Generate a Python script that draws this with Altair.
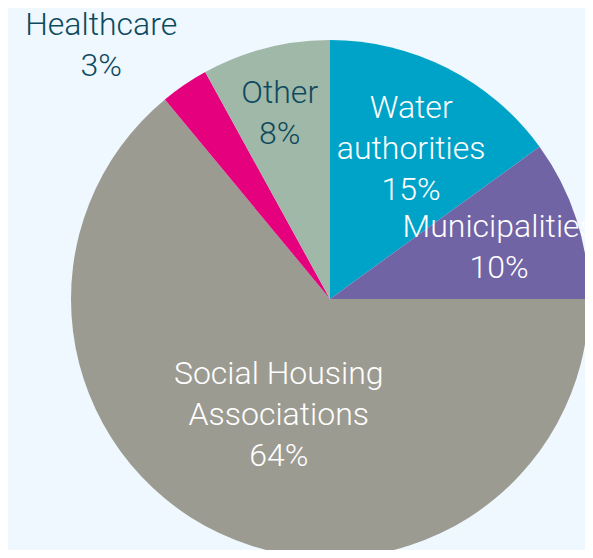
import altair as alt
import pandas as pd

categories = ["Water authorities", "Municipalities", "Social Housing Associations", "Healthcare", "Other"]
labels = ["Water\nauthorities\n15%", "Municipalities\n10%", "Social Housing\nAssociations\n64%", "Healthcare\n3%", "Other\n8%"]
values = [15, 10, 64, 3, 8]
colors = ["#00A3C8", "#7164A5", "#9C9B91", "#E5007D", "#A0B8A7"]

df = pd.DataFrame({"category": categories, "label": labels, "value": values,
                   "idx": list(range(len(categories)))})

CX, CY = 322, 291
base = alt.Chart(df)

theta = alt.Theta("value:Q", stack=True)
order = alt.Order("idx:Q")

pie = base.mark_arc(outerRadius=259, stroke=None).encode(
    theta=theta,
    order=order,
    color=alt.Color("category:N", scale=alt.Scale(domain=categories, range=colors), legend=None),
    x=alt.value(CX), y=alt.value(CY),
)

LH = 41
style = {
    "Water authorities": dict(radius=170, dx=4, dy=-LH + 1, color="white"),
    "Municipalities": dict(radius=180, dx=-2, dy=4 - LH / 2, color="white"),
    "Social Housing Associations": dict(radius=125, dx=2, dy=-LH + 3, color="white"),
    "Healthcare": dict(radius=343, dx=-36, dy=30 - LH / 2, color="#0D4A5E"),
    "Other": dict(radius=194, dx=-2, dy=2 - LH / 2, color="#0D4A5E"),
}

layers = [pie]
for cat in categories:
    s = style[cat]
    t = base.mark_text(radius=s["radius"], dx=s["dx"], dy=s["dy"], fontSize=32, font="Roboto",
                       fontWeight=300, lineBreak="\n", lineHeight=LH, align="center",
                       baseline="middle", color=s["color"]).encode(
        theta=theta,
        order=order,
        text="label:N",
        x=alt.value(CX), y=alt.value(CY),
        opacity=alt.condition(alt.datum.category == cat, alt.value(1), alt.value(0)),
    )
    layers.append(t)

chart = alt.layer(*layers).properties(
    width=577, height=542, padding=0, autosize=alt.AutoSizeParams(type="none"),
    background="#EEF8FE",
).configure_view(stroke=None)

chart.save("out.html", embed_options={"renderer": "svg", "actions": False})
